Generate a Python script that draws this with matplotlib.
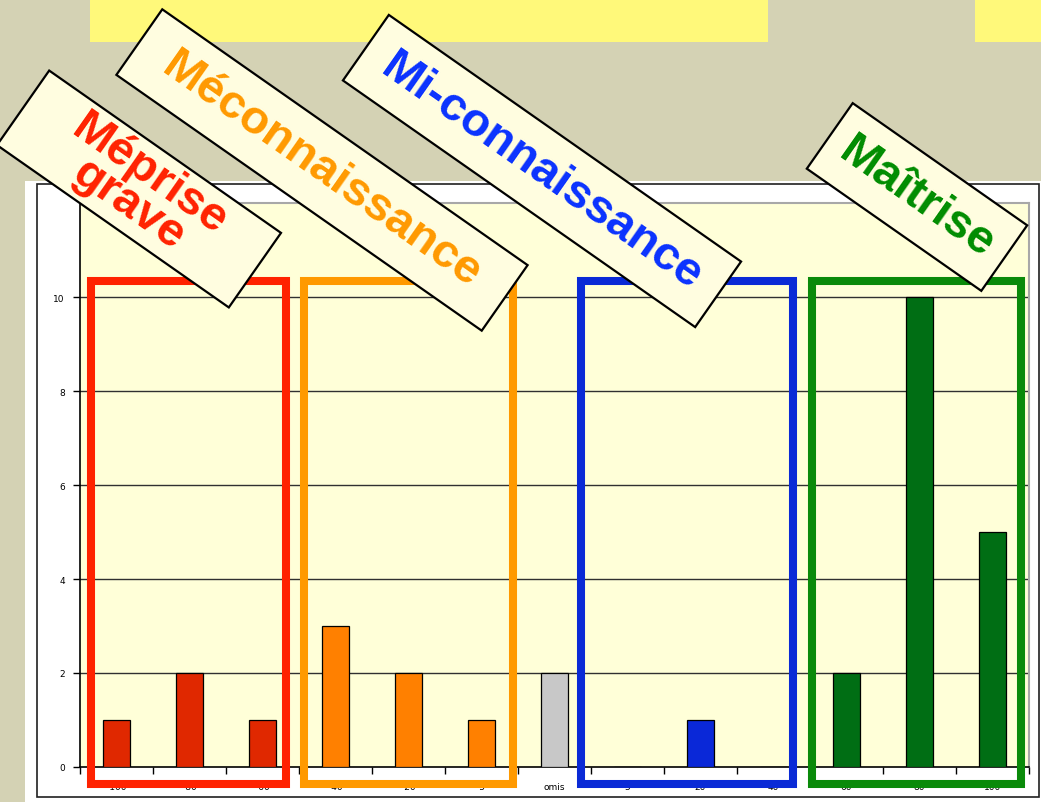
import matplotlib
matplotlib.use("Agg")
import matplotlib.pyplot as plt
from matplotlib.patches import Rectangle
from matplotlib.transforms import IdentityTransform

# ---- data ----
categories = ["-100", "-80", "-60", "-40", "-20", "-5", "omis", "5", "20", "40", "60", "80", "100"]
counts = [1, 2, 1, 3, 2, 1, 2, 0, 1, 0, 2, 10, 5]
bar_colors = ["#e02800", "#e02800", "#e02800",
              "#ff8000", "#ff8000", "#ff8000",
              "#c8c8c8",
              "#0a28d8", "#0a28d8", "#0a28d8",
              "#006e14", "#006e14", "#006e14"]
group_names = ["Méprise\ngrave", "Méconnaissance", "Mi-connaissance", "Maîtrise"]
group_text_colors = ["#ff2200", "#ff9900", "#0a32ff", "#008c00"]
group_frame_colors = ["#ff2200", "#ff9900", "#0a2ad6", "#0a8a0a"]
y_ticks = [0, 2, 4, 6, 8, 10]

W, H = 1041, 803
fig = plt.figure(figsize=(W / 100, H / 100), dpi=100)
fig.patch.set_facecolor("#d4d2b4")
ident = IdentityTransform()

def disp(x, y):
    return x, H - y

# yellow bands at top
for x0, x1 in [(90, 768), (975, 1041)]:
    fig.add_artist(Rectangle(disp(x0, 43), x1 - x0, 43, transform=ident,
                             facecolor="#fff97a", edgecolor="none", zorder=-2))
# white chart panel
fig.add_artist(Rectangle(disp(25, 803), W - 25, 803 - 182, transform=ident,
                         facecolor="white", edgecolor="none", zorder=-2))
fig.add_artist(Rectangle(disp(37, 798), 1039 - 37, 798 - 185, transform=ident,
                         facecolor="none", edgecolor="#202020", linewidth=1.2, zorder=-1))

# ---- axes ----
ax = fig.add_axes([80 / W, (H - 768) / H, 949 / W, 564 / H])
ax.set_facecolor("#ffffd8")
x = list(range(len(categories)))
ax.bar(x, counts, width=0.38, color=bar_colors, edgecolor="black", linewidth=0.9, zorder=3)
ax.set_xlim(-0.5, len(categories) - 0.5)
ax.set_ylim(0, 12)
ax.set_yticks(y_ticks)
ax.set_yticklabels([str(v) for v in y_ticks], fontsize=6.5)
for v in y_ticks[1:]:
    ax.axhline(v, color="#303030", linewidth=1.0, zorder=1)
ax.set_xticks([i + 0.5 for i in x[:-1]] + [-0.5, len(categories) - 0.5])
ax.set_xticklabels([])
ax.set_xticks(x, minor=True)
ax.set_xticklabels(categories, minor=True, fontsize=6.5)
ax.tick_params(axis="x", which="major", direction="out", length=5, width=1, color="black")
ax.tick_params(axis="x", which="minor", length=0, pad=11)
ax.tick_params(axis="y", direction="out", length=5, width=1, pad=6)
for s in ["left", "bottom"]:
    ax.spines[s].set_color("black")
    ax.spines[s].set_linewidth(1.2)
for s in ["top", "right"]:
    ax.spines[s].set_color("#a8a8a8")
    ax.spines[s].set_linewidth(1.5)

# group frames (data coordinates)
frames = [(-0.35, 2.32), (2.57, 5.43), (6.36, 9.27), (9.53, 12.39)]
for (fx0, fx1), col in zip(frames, group_frame_colors):
    ax.add_patch(Rectangle((fx0, -0.37), fx1 - fx0, 10.34 + 0.37, fill=False,
                           edgecolor=col, linewidth=5.8, clip_on=False, zorder=5))

# rotated labels
label_geo = [((139, 190), 283, 91), ((322, 171), 446, 80),
             ((542, 172), 430, 80), ((917, 198), 213, 80)]
angle = -35
for name, tcol, ((cx, cy), L, Wd) in zip(group_names, group_text_colors, label_geo):
    dx, dy = disp(cx, cy)
    fig.add_artist(Rectangle((dx - L / 2, dy - Wd / 2), L, Wd, angle=angle,
                             rotation_point="center", transform=ident,
                             facecolor="#fffde0", edgecolor="black", linewidth=1.6, zorder=6))
    fig.text(dx, dy, name, transform=ident, rotation=angle, rotation_mode="anchor",
             ha="center", va="center", multialignment="center", color=tcol,
             fontsize=34, fontweight="bold", family="Liberation Sans",
             linespacing=0.78, zorder=7)

fig.savefig("out.png", dpi=100)
